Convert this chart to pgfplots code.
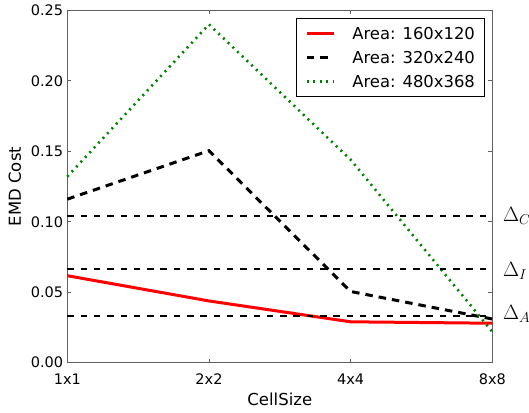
\documentclass[border=0pt]{standalone}
\usepackage{fontspec}
\setmainfont{DejaVu Sans}
\usepackage{pgfplots}
\pgfplotsset{compat=1.18}
\usetikzlibrary{calc}
\definecolor{mplgreen}{rgb}{0,0.5,0}
\definecolor{framegray}{gray}{0.38}

\begin{document}
\begin{tikzpicture}
\begin{axis}[
  scale only axis,
  width=425pt, height=352.4pt,
  xmin=0, xmax=3, ymin=0, ymax=0.25,
  clip=false,
  xtick={0,1,2,3},
  xticklabels={1x1,2x2,4x4,8x8},
  ytick={0,0.05,0.10,0.15,0.20,0.25},
  ticklabel style={font=\fontsize{14.5}{17}\selectfont, inner sep=0pt},
  yticklabel style={/pgf/number format/fixed, /pgf/number format/fixed zerofill,
    /pgf/number format/precision=2, /pgf/number format/assume math mode=true,
    anchor=east, xshift=-4pt},
  xticklabel style={anchor=north, yshift=-10.6pt},
  xlabel={CellSize}, ylabel={EMD Cost},
  label style={font=\fontsize{16.5}{19}\selectfont, inner sep=0pt},
  xlabel style={at={(axis description cs:0.5,-0.086)}, anchor=north},
  ylabel style={at={(axis description cs:-0.1388,0.5)}, anchor=north},
  axis line style={framegray, line width=1.1pt},
  tick style={framegray, line width=0.8pt},
  major tick length=4pt,
  legend cell align=left,
  legend style={at={(1,1)}, anchor=north east, xshift=-8pt, yshift=-8pt,
    draw=black, line width=0.8pt, font=\fontsize{16.4}{19}\selectfont,
    inner xsep=9pt, inner ysep=8.5pt, row sep=12pt, column sep=17pt,
    nodes={inner sep=0pt, text depth=0pt}},
  legend image code/.code={\draw[mark repeat=2,mark phase=2] plot coordinates {(0pt,0pt) (13.5pt,0pt) (27pt,0pt)};},
]
\coordinate (bl) at (rel axis cs:0,0);
\coordinate (tr) at (rel axis cs:1,1);

\addplot[red, line width=3pt] coordinates {(0,0.0617) (1,0.0438) (2,0.0290) (3,0.0280)};
\addlegendentry{Area: 160x120}
\addplot[black, line width=3pt, dash pattern=on 7.5pt off 6pt] coordinates {(0,0.116) (1,0.1504) (2,0.0505) (3,0.031)};
\addlegendentry{Area: 320x240}
\addplot[mplgreen, line width=2.6pt, dash pattern=on 2pt off 4.5pt] coordinates {(0,0.132) (1,0.240) (2,0.144) (3,0.022)};
\addlegendentry{Area: 480x368}

\addplot[black, line width=2pt, dash pattern=on 6.5pt off 6.8pt, forget plot] coordinates {(0,0.104) (3,0.104)};
\addplot[black, line width=2pt, dash pattern=on 6.5pt off 6.8pt, forget plot] coordinates {(0,0.0663) (3,0.0663)};
\addplot[black, line width=2pt, dash pattern=on 6.5pt off 6.8pt, forget plot] coordinates {(0,0.0331) (3,0.0331)};

\node[anchor=base west, inner sep=0pt, font=\fontsize{21}{24}\selectfont] at (axis cs:3,0.104) [xshift=10.5pt, yshift=-5.7pt] {$\Delta_C$};
\node[anchor=base west, inner sep=0pt, font=\fontsize{21}{24}\selectfont] at (axis cs:3,0.0663) [xshift=10.5pt, yshift=-7.4pt] {$\Delta_I$};
\node[anchor=base west, inner sep=0pt, font=\fontsize{21}{24}\selectfont] at (axis cs:3,0.0331) [xshift=10.5pt, yshift=-3pt] {$\Delta_A$};
\end{axis}
\pgfresetboundingbox
\path[use as bounding box] ($(bl)+(-67.3pt,-50.3pt)$) rectangle ($(tr)+(36.7pt,10.3pt)$);
\end{tikzpicture}
\end{document}
